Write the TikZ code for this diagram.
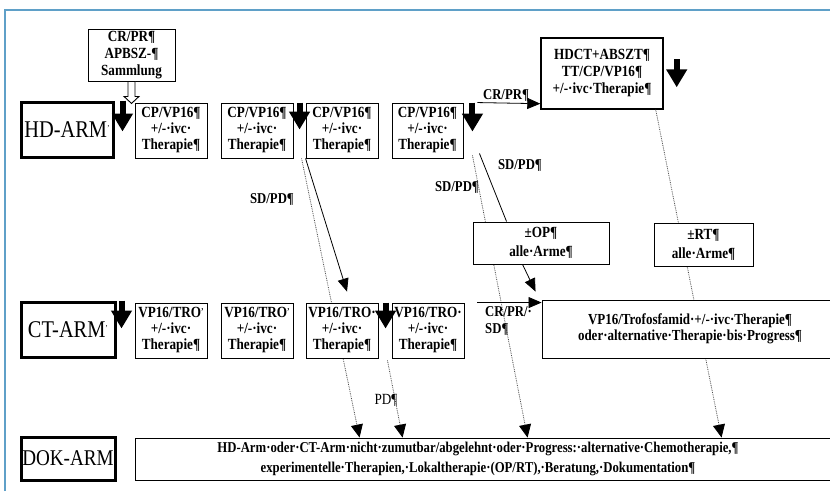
\documentclass[tikz,border=0pt]{standalone}
\usepackage{fontspec}
\setmainfont{Liberation Serif}[FakeStretch=0.85]
\usetikzlibrary{arrows.meta,calc}
\definecolor{frameblue}{RGB}{95,160,200}
\newcommand{\tick}{\raisebox{0.55ex}{\fontsize{9}{9}\selectfont'}}
\begin{document}
\begin{tikzpicture}[x=1pt,y=-1pt,
  box/.style={draw, line width=0.9pt, fill=white, align=center, inner sep=0pt,
    font=\bfseries\fontsize{15.5}{16}\selectfont},
  arm/.style={draw, line width=3pt, fill=white, inner sep=0pt,
    font=\fontsize{24}{26}\selectfont},
  lbl/.style={inner sep=0pt, font=\bfseries\fontsize{15}{16}\selectfont},
  conn/.style={line width=0.8pt, -{Triangle[length=13pt,width=11pt]}},
  plain/.style={line width=0.8pt},
  dots/.style={line width=0.8pt, densely dotted, black!70,
    -{Triangle[length=13pt,width=12pt,color=black,fill=black]}},
  bigdown/.style={line width=6pt, -{Triangle[length=18pt,width=20pt]}},
]
\useasboundingbox (0,0) rectangle (830,491);
\fill[white] (0,0) rectangle (830,491);
\draw[frameblue, line width=1.5pt] (5,491) -- (5,10) -- (830,10);

% ---------- HD row
\node[arm, minimum width=92pt, minimum height=55pt] (hd) at (67,129.5) {HD-ARM\tick};
\node[box, minimum width=87pt, minimum height=52pt, font=\bfseries\fontsize{15.5}{17}\selectfont] (apb) at (131.5,55) {CR/PR¶\\APBSZ-¶\\Sammlung};
\node[box, minimum width=72pt, minimum height=55pt] (cp1) at (171,130.5) {CP/VP16¶\\+/-·ivc·\\Therapie¶};
\node[box, minimum width=72pt, minimum height=55pt] (cp2) at (257,130.5) {CP/VP16¶\\+/-·ivc·\\Therapie¶};
\node[box, minimum width=72pt, minimum height=55pt] (cp3) at (342,130.5) {CP/VP16¶\\+/-·ivc·\\Therapie¶};
\node[box, minimum width=71pt, minimum height=55pt] (cp4) at (427.5,130.5) {CP/VP16¶\\+/-·ivc·\\Therapie¶};
\node[box, line width=1.4pt, minimum width=122pt, minimum height=71pt, font=\bfseries\fontsize{15.5}{17}\selectfont] (hdct) at (602,73.5) {HDCT+ABSZT¶\\TT/CP/VP16¶\\+/-·ivc·Therapie¶};

% ---------- CT row and DOK row boxes
\node[arm, minimum width=94pt, minimum height=55pt] (ct) at (68,329.5) {CT-ARM\tick};
\node[arm, minimum width=94pt, minimum height=43pt, font=\fontsize{22.5}{24}\selectfont] (dok) at (68,458.5) {DOK-ARM};
\node[box, minimum width=705pt, minimum height=42pt] (dokb) at (487.5,459) {};

% ---------- dotted connectors to DOK (behind boxes)
\draw[dots] ($(cp3.south west)+(-4,0)$) -- ($(dokb.north west)+(225,0)$);
\draw[dots] ($(cp4.south east)+(9,-3)$) -- ($(dokb.north west)+(393,0)$);
\draw[dots] ($(hdct.south east)+(-8,0)$) -- ($(dokb.north west)+(587,0)$);

% ---------- boxes drawn over the dotted lines
\node[box, minimum width=136pt, minimum height=42pt, font=\bfseries\fontsize{15.5}{19}\selectfont] (op) at (541,243) {±OP¶\\alle·Arme¶};
\node[box, minimum width=99pt, minimum height=43pt, font=\bfseries\fontsize{15.5}{19}\selectfont] (rt) at (703.5,244.5) {±RT¶\\alle·Arme¶};
\node[box, minimum width=72pt, minimum height=55pt] (vt1) at (171,330.5) {VP16/TRO\tick\\+/-·ivc·\\Therapie¶};
\node[box, minimum width=72pt, minimum height=55pt] (vt2) at (257,330.5) {VP16/TRO\tick\\+/-·ivc·\\Therapie¶};
\node[box, minimum width=72pt, minimum height=55pt] (vt3) at (342,330.5) {VP16/TRO·\\+/-·ivc·\\Therapie¶};
\node[box, minimum width=72pt, minimum height=55pt] (vt4) at (428,330.5) {VP16/TRO·\\+/-·ivc·\\Therapie¶};
\node[box, minimum width=296pt, minimum height=58pt, font=\bfseries\fontsize{15.3}{16.5}\selectfont] (tro) at (690,329) {VP16/Trofosfamid·+/-·ivc·Therapie¶\\oder·alternative·Therapie·bis·Progress¶};
\node[align=center, inner sep=0pt, font=\bfseries\fontsize{15}{20}\selectfont] (dokt) at (478,459)
  {HD-Arm·oder·CT-Arm·nicht·zumutbar/abgelehnt·oder·Progress:·alternative·Chemotherapie,¶\\experimentelle·Therapien,·Lokaltherapie·(OP/RT),·Beratung,·Dokumentation¶};

% dotted connector from CT row to DOK
\draw[dots] ($(vt3.south east)+(9,2)$) -- ($(dokb.north west)+(268,0)$);

% ---------- big black down arrows
\draw[bigdown] ($(hd.north east)+(8,0)$) -- ($(hd.north east)+(8,31)$);
\draw[bigdown] ($(cp3.north west)+(-6,0)$) -- ($(cp3.north west)+(-6,27)$);
\draw[bigdown] ($(cp4.north east)+(9,0)$) -- ($(cp4.north east)+(9,29)$);
\draw[bigdown] ($(hdct.north east)+(13,22)$) -- ($(hdct.north east)+(13,50)$);
\draw[bigdown] ($(ct.north east)+(5,0)$) -- ($(ct.north east)+(5,28)$);
\draw[bigdown] ($(vt4.north west)+(-6,0)$) -- ($(vt4.north west)+(-6,26)$);

% hollow arrow from APBSZ box
\draw[line width=0.9pt, fill=white]
  ($(apb.south)+(-3.5,0)$) -- ($(apb.south)+(3.5,0)$) -- ($(apb.south)+(3.5,15)$)
  -- ($(apb.south)+(7.5,15)$) -- ($(apb.south)+(0,22)$) -- ($(apb.south)+(-7.5,15)$)
  -- ($(apb.south)+(-3.5,15)$) -- cycle;

% ---------- thin solid connectors
\draw[conn] ($(cp4.north east)+(14,0)$) -- ($(hdct.south west)+(0,-6)$);
\draw[conn] (cp3.south west) -- ($(vt3.north)+(5,-11)$);
\draw[plain] ($(cp4.south east)+(16,-5)$) -- ($(op.north west)+(34,0)$);
\draw[conn] ($(op.south west)+(50,0)$) -- ($(tro.north west)+(-6,-8)$);
\draw[conn] ($(vt4.north east)+(13,0)$) -- ($(tro.north west)+(0,3)$);

% ---------- labels
\node[lbl] (l1) at (506,95) {CR/PR¶};
\node[lbl] (l2) at (520,165) {SD/PD¶};
\node[lbl] (l3) at (457,187) {SD/PD¶};
\node[lbl] (l4) at (272,199) {SD/PD¶};
\node[lbl, anchor=north west, align=left, font=\bfseries\fontsize{15}{17}\selectfont] (l5) at (485,306) {CR/PR/·\\SD¶};
\node[inner sep=0pt, font=\fontsize{15.5}{16}\selectfont] (l6) at (386,400) {PD¶};
\end{tikzpicture}
\end{document}
